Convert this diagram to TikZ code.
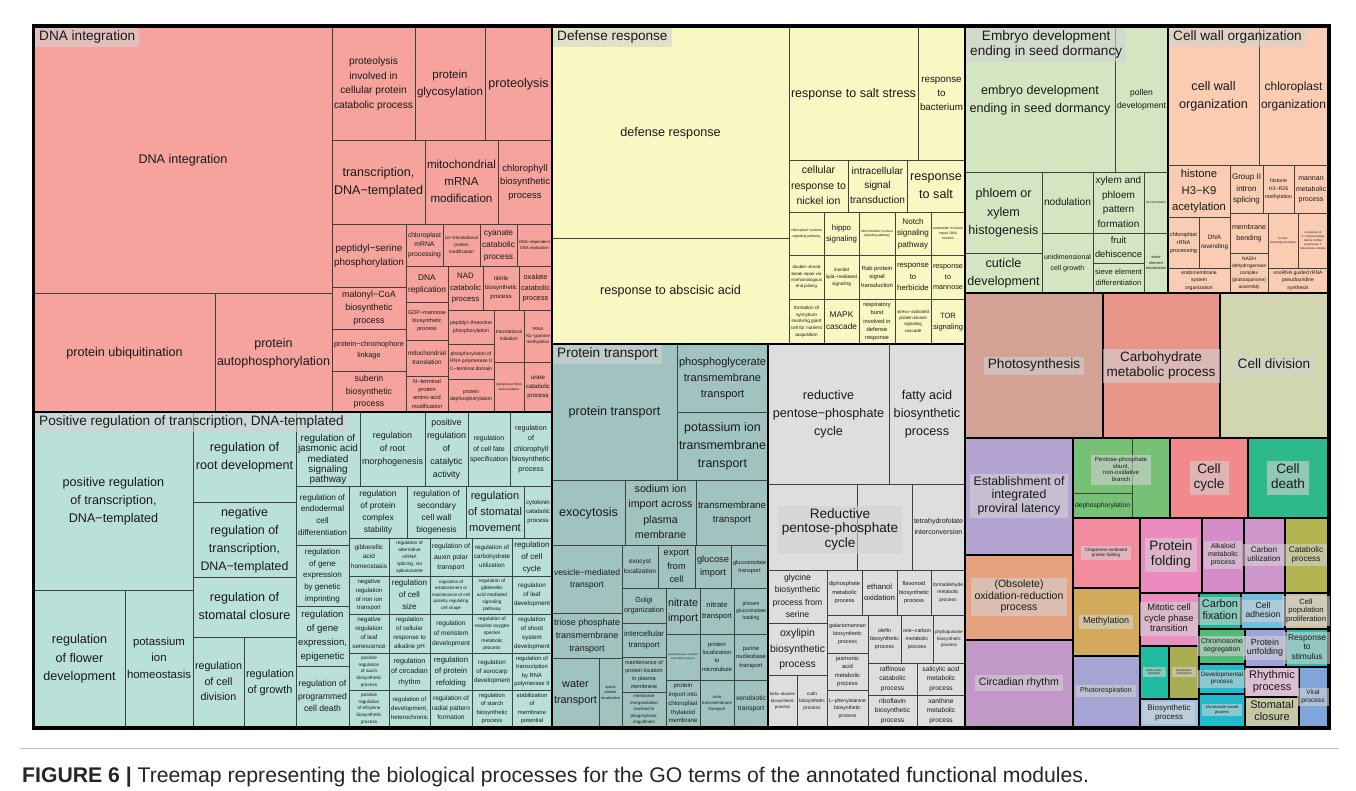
\documentclass[tikz,border=0pt]{standalone}
\usepackage{fontspec}
\setmainfont{Liberation Sans}
\usepackage{graphicx}

\definecolor{dnacol}{HTML}{F5A39C}
\definecolor{defcol}{HTML}{F9F7C2}
\definecolor{embcol}{HTML}{D3E6C1}
\definecolor{cwcol}{HTML}{FACDB3}
\definecolor{poscol}{HTML}{BAE0DA}
\definecolor{ptcol}{HTML}{A0C3C0}
\definecolor{rppcol}{HTML}{DEDEDE}
\definecolor{phocol}{HTML}{D4A294}
\definecolor{carbcol}{HTML}{EA958A}
\definecolor{divcol}{HTML}{D2D6B0}
\definecolor{estcol}{HTML}{B4A3D0}
\definecolor{obscol}{HTML}{E6A17E}
\definecolor{circcol}{HTML}{C198C7}
\definecolor{pencol}{HTML}{76C175}
\definecolor{cyccol}{HTML}{F2898A}
\definecolor{deathcol}{HTML}{2EB98A}
\definecolor{chapcol}{HTML}{F28B9E}
\definecolor{methcol}{HTML}{D3A95C}
\definecolor{prespcol}{HTML}{A7A4D4}
\definecolor{foldcol}{HTML}{EB8BC0}
\definecolor{alkcol}{HTML}{D58CC8}
\definecolor{cutilcol}{HTML}{CE97CB}
\definecolor{catcol}{HTML}{B3B452}
\definecolor{mitcol}{HTML}{EA8FC0}
\definecolor{cfixcol}{HTML}{22B99B}
\definecolor{adhcol}{HTML}{73BDE2}
\definecolor{prolcol}{HTML}{CBC395}
\definecolor{chromcol}{HTML}{4FBA7A}
\definecolor{unfcol}{HTML}{9EA3DB}
\definecolor{stimcol}{HTML}{33BAB0}
\definecolor{auxcol}{HTML}{1FBAA0}
\definecolor{asymcol}{HTML}{A9AE52}
\definecolor{devcol}{HTML}{1FBBCD}
\definecolor{rhycol}{HTML}{EBA3D5}
\definecolor{viralcol}{HTML}{7FA6DA}
\definecolor{bioscol}{HTML}{9DC3E6}
\definecolor{microcol}{HTML}{1FBBCD}
\definecolor{stomcol}{HTML}{B5BA63}

\tikzset{
  cellline/.style={draw=black!75, line width=0.8},
  grpline/.style={draw=black, line width=2.4},
  lbl/.style={inner sep=0, text=black!90},
  gtitle/.style={fill=gray!35, fill opacity=0.6, text opacity=1, inner xsep=4, inner ysep=2, text=black!90,
    execute at begin node={\def\lblfac{1.1}}}
}

% label shrunk to fit its box: [base size]{width}{height}{text}
\newsavebox\lblbox
\newdimen\lblw
\newdimen\lblh
\def\lblfac{1.45}
\newcommand{\fitlabel}[4][12.6]{%
  \edef\lblskip{\fpeval{\lblfac*#1}}%
  \sbox\lblbox{\fontsize{#1}{\lblskip}\selectfont\begin{tabular}{@{}c@{}}#4\end{tabular}}%
  \lblw=\wd\lblbox
  \lblh=\ht\lblbox
  \advance\lblh by \dp\lblbox
  \pgfmathsetmacro\lblsc{min(1,(#2)/\the\lblw,(#3)/\the\lblh)}%
  \scalebox{\lblsc}{\usebox\lblbox}}

% one cell of the treemap: {x1}{y1}{x2}{y2}{name}{text}
\newcommand{\cell}[6]{%
  \draw[cellline] (#1,#2) rectangle (#3,#4);
  \node[lbl] (#5) at ({(#1+#3)/2},{(#2+#4)/2}) {\fitlabel{#3-#1-4}{#4-#2-3}{#6}};}

\begin{document}
\begin{tikzpicture}[x=1pt,y=-1pt]
\useasboundingbox (0,0) rectangle (1356,791);
\fill[white] (0,0) rectangle (1356,791);
% group fills
\fill[dnacol] (34,27) rectangle (552,412);
\fill[defcol] (552,27) rectangle (965,344);
\fill[embcol] (965,27) rectangle (1168,293);
\fill[cwcol] (1168,27) rectangle (1328,293);
\fill[poscol] (34,412) rectangle (552,727);
\fill[ptcol] (552,344) rectangle (768,727);
\fill[rppcol] (768,344) rectangle (965,727);
\fill[phocol] (965,293) rectangle (1103,438);
\fill[carbcol] (1103,293) rectangle (1220,438);
\fill[divcol] (1220,293) rectangle (1328,438);
\fill[estcol] (965,438) rectangle (1073,555);
\fill[obscol] (965,555) rectangle (1073,640);
\fill[circcol] (965,640) rectangle (1073,727);
\fill[pencol] (1073,438) rectangle (1170,518);
\fill[cyccol] (1170,438) rectangle (1248,518);
\fill[deathcol] (1248,438) rectangle (1328,518);
\fill[chapcol] (1073,518) rectangle (1140,588);
\fill[methcol] (1073,588) rectangle (1140,656);
\fill[prespcol] (1073,656) rectangle (1140,727);
\fill[foldcol] (1140,518) rectangle (1202,593);
\fill[alkcol] (1202,518) rectangle (1244,593);
\fill[cutilcol] (1244,518) rectangle (1285,593);
\fill[catcol] (1285,518) rectangle (1328,593);
\fill[mitcol] (1140,593) rectangle (1199,646);
\fill[cfixcol] (1199,593) rectangle (1241,629);
\fill[adhcol] (1241,593) rectangle (1285,629);
\fill[prolcol] (1285,593) rectangle (1328,629);
\fill[chromcol] (1199,629) rectangle (1245,664);
\fill[unfcol] (1245,629) rectangle (1286,667);
\fill[stimcol] (1286,629) rectangle (1328,667);
\fill[auxcol] (1140,646) rectangle (1169,699);
\fill[asymcol] (1169,646) rectangle (1199,699);
\fill[devcol] (1199,664) rectangle (1245,694);
\fill[rhycol] (1245,667) rectangle (1299,697);
\fill[viralcol] (1299,667) rectangle (1328,727);
\fill[bioscol] (1140,699) rectangle (1199,727);
\fill[microcol] (1199,694) rectangle (1245,727);
\fill[stomcol] (1245,697) rectangle (1299,727);

% DNA integration
\cell{34}{27}{332}{293}{dna1}{DNA integration}
\cell{34}{293}{215}{412}{dna2}{protein ubiquitination}
\cell{215}{293}{332}{412}{dna3}{protein\\autophosphorylation}
\cell{332}{27}{415}{140}{dna4}{proteolysis\\involved in\\cellular protein\\catabolic process}
\cell{415}{27}{485}{140}{dna5}{protein\\glycosylation}
\cell{485}{27}{552}{140}{dna6}{proteolysis}
\cell{332}{140}{425}{224}{dna7}{transcription,\\DNA−templated}
\cell{425}{140}{498}{224}{dna8}{mitochondrial\\mRNA\\modification}
\cell{498}{140}{552}{224}{dna9}{chlorophyll\\biosynthetic\\process}
\cell{332}{224}{406}{287}{dna10}{peptidyl−serine\\phosphorylation}
\cell{332}{287}{406}{329}{dna11}{malonyl−CoA\\biosynthetic\\process}
\cell{332}{329}{406}{371}{dna12}{protein−chromophore\\linkage}
\cell{332}{371}{406}{412}{dna13}{suberin\\biosynthetic\\process}
\cell{406}{224}{443}{266}{dna14}{chloroplast\\mRNA\\processing}
\cell{443}{224}{480}{266}{dna15}{co−translational\\protein\\modification}
\cell{480}{224}{517}{266}{dna16}{cyanate\\catabolic\\process}
\cell{517}{224}{552}{266}{dna17}{DNA−dependent\\DNA replication}
\cell{406}{266}{448}{302}{dna18}{DNA\\replication}
\cell{448}{266}{483}{310}{dna19}{NAD\\catabolic\\process}
\cell{483}{266}{519}{310}{dna20}{nitrile\\biosynthetic\\process}
\cell{519}{266}{552}{310}{dna21}{oxalate\\catabolic\\process}
\cell{406}{302}{448}{340}{dna22}{GDP−mannose\\biosynthetic\\process}
\cell{406}{340}{448}{376}{dna23}{mitochondrial\\translation}
\cell{406}{376}{448}{412}{dna24}{N−terminal\\protein\\amino acid\\modification}
\cell{448}{310}{494}{344}{dna25}{peptidyl−threonine\\phosphorylation}
\cell{448}{344}{494}{379}{dna26}{phosphorylation of\\RNA polymerase II\\C−terminal domain}
\cell{448}{379}{494}{412}{dna27}{protein\\dephosphorylation}
\cell{494}{310}{524}{362}{dna28}{translational\\initiation}
\cell{494}{362}{524}{412}{dna29}{tryptophanyl−tRNA\\aminoacylation}
\cell{524}{310}{552}{362}{dna30}{tRNA\\N1−guanine\\methylation}
\cell{524}{362}{552}{412}{dna31}{urate\\catabolic\\process}

% Defense response
\cell{552}{27}{789}{238}{def1}{defense response}
\cell{552}{238}{789}{344}{def2}{response to abscisic acid}
\cell{789}{27}{918}{160}{def3}{response to salt stress}
\cell{918}{27}{965}{160}{def4}{response\\to\\bacterium}
\cell{789}{160}{848}{212}{def5}{cellular\\response to\\nickel ion}
\cell{848}{160}{907}{212}{def6}{intracellular\\signal\\transduction}
\cell{907}{160}{965}{212}{def7}{response\\to salt}
\cell{789}{212}{824}{255}{def8}{chloroplast−nucleus\\signaling pathway}
\cell{824}{212}{859}{255}{def9}{hippo\\signaling}
\cell{859}{212}{895}{255}{def10}{mitochondria−nucleus\\signaling pathway}
\cell{895}{212}{931}{255}{def11}{Notch\\signaling\\pathway}
\cell{931}{212}{965}{255}{def12}{nucleotide−excision\\repair, DNA\\incision}
\cell{789}{255}{824}{299}{def13}{double−strand\\break repair via\\nonhomologous\\end joining}
\cell{824}{255}{859}{299}{def14}{inositol\\lipid−mediated\\signaling}
\cell{859}{255}{895}{299}{def15}{Rab protein\\signal\\transduction}
\cell{895}{255}{931}{299}{def16}{response\\to\\herbicide}
\cell{931}{255}{965}{299}{def17}{response\\to\\mannose}
\cell{789}{299}{824}{344}{def18}{formation of\\syncytium\\involving giant\\cell for nutrient\\acquisition}
\cell{824}{299}{859}{344}{def19}{MAPK\\cascade}
\cell{859}{299}{895}{344}{def20}{respiratory\\burst\\involved in\\defense\\response}
\cell{895}{299}{931}{344}{def21}{stress−activated\\protein kinase\\signaling\\cascade}
\cell{931}{299}{965}{344}{def22}{TOR\\signaling}

% Embryo development
\cell{965}{27}{1115}{172}{emb1}{embryo development\\ending in seed dormancy}
\cell{1115}{27}{1168}{172}{emb2}{pollen\\development}
\cell{965}{172}{1042}{253}{emb3}{phloem or\\xylem\\histogenesis}
\cell{965}{253}{1042}{293}{emb4}{cuticle\\development}
\cell{1042}{172}{1093}{233}{emb5}{nodulation}
\cell{1042}{233}{1093}{293}{emb6}{unidimensional\\cell growth}
\cell{1093}{172}{1144}{233}{emb7}{xylem and\\phloem\\pattern\\formation}
\cell{1093}{233}{1144}{263}{emb8}{fruit\\dehiscence}
\cell{1093}{263}{1144}{293}{emb9}{sieve element\\differentiation}
\cell{1144}{172}{1168}{233}{emb10}{circumnutation}
\cell{1144}{233}{1168}{293}{emb11}{sieve\\element\\enucleation}

% Cell wall organization
\cell{1168}{27}{1259}{165}{cw1}{cell wall\\organization}
\cell{1259}{27}{1328}{165}{cw2}{chloroplast\\organization}
\cell{1168}{165}{1230}{217}{cw3}{histone\\H3−K9\\acetylation}
\cell{1230}{165}{1263}{213}{cw4}{Group II\\intron\\splicing}
\cell{1263}{165}{1294}{213}{cw5}{histone\\H3−R26\\methylation}
\cell{1294}{165}{1328}{213}{cw6}{mannan\\metabolic\\process}
\cell{1168}{217}{1199}{268}{cw7}{chloroplast\\rRNA\\processing}
\cell{1199}{217}{1230}{268}{cw8}{DNA\\rewinding}
\cell{1230}{213}{1268}{253}{cw9}{membrane\\bending}
\cell{1268}{213}{1298}{268}{cw10}{protein\\homooligomerization}
\cell{1298}{213}{1328}{268}{cw11}{recruitment of\\3'−end processing\\factors to RNA\\polymerase II\\holoenzyme complex}
\cell{1168}{268}{1230}{293}{cw12}{endomembrane\\system\\organization}
\cell{1230}{253}{1268}{293}{cw13}{NADH\\dehydrogenase\\complex\\(plastoquinone)\\assembly}
\cell{1268}{268}{1328}{293}{cw14}{snoRNA guided rRNA\\pseudouridine\\synthesis}

% Positive regulation of transcription
\cell{34}{412}{193}{590}{pos1}{positive regulation\\of transcription,\\DNA−templated}
\cell{34}{590}{125}{727}{pos2}{regulation\\of flower\\development}
\cell{125}{590}{193}{727}{pos3}{potassium\\ion\\homeostasis}
\cell{193}{412}{296}{502}{pos4}{regulation of\\root development}
\cell{193}{502}{296}{577}{pos5}{negative\\regulation of\\transcription,\\DNA−templated}
\cell{193}{577}{296}{637}{pos6}{regulation of\\stomatal closure}
\cell{193}{637}{244}{727}{pos7}{regulation\\of cell\\division}
\cell{244}{637}{296}{727}{pos8}{regulation\\of growth}
\draw[cellline] (296,412) rectangle (360,486);
\node[lbl, execute at begin node={\def\lblfac{1.05}}] (pos9) at (328,460) {\fitlabel{60}{52}{regulation of\\jasmonic acid\\mediated\\signaling\\pathway}};
\cell{360}{412}{425}{486}{pos10}{regulation\\of root\\morphogenesis}
\cell{425}{412}{468}{486}{pos11}{positive\\regulation\\of\\catalytic\\activity}
\cell{468}{412}{510}{486}{pos12}{regulation\\of cell fate\\specification}
\cell{510}{412}{552}{486}{pos13}{regulation\\of\\chlorophyll\\biosynthetic\\process}
\cell{296}{486}{349}{545}{pos14}{regulation of\\endodermal\\cell\\differentiation}
\cell{349}{486}{407}{538}{pos15}{regulation\\of protein\\complex\\stability}
\cell{407}{486}{466}{538}{pos16}{regulation of\\secondary\\cell wall\\biogenesis}
\cell{466}{486}{524}{538}{pos17}{regulation\\of stomatal\\movement}
\cell{524}{486}{552}{538}{pos18}{cytokinin\\catabolic\\process}
\cell{296}{545}{349}{606}{pos19}{regulation\\of gene\\expression\\by genetic\\imprinting}
\cell{296}{606}{349}{666}{pos20}{regulation\\of gene\\expression,\\epigenetic}
\cell{296}{666}{349}{727}{pos21}{regulation of\\programmed\\cell death}
\cell{349}{538}{389}{576}{pos22}{gibberellic\\acid\\homeostasis}
\cell{389}{538}{430}{576}{pos23}{regulation of\\alternative\\mRNA\\splicing, via\\spliceosome}
\cell{430}{538}{472}{576}{pos24}{regulation of\\auxin polar\\transport}
\cell{472}{538}{512}{576}{pos25}{regulation of\\carbohydrate\\utilization}
\cell{512}{538}{552}{576}{pos26}{regulation\\of cell\\cycle}
\cell{349}{576}{389}{614}{pos27}{negative\\regulation\\of iron ion\\transport}
\cell{389}{576}{430}{614}{pos28}{regulation\\of cell\\size}
\cell{430}{576}{472}{614}{pos29}{regulation of\\establishment or\\maintenance of cell\\polarity regulating\\cell shape}
\cell{472}{576}{512}{614}{pos30}{regulation of\\gibberellic\\acid mediated\\signaling\\pathway}
\cell{512}{576}{552}{614}{pos31}{regulation\\of leaf\\development}
\cell{349}{614}{389}{653}{pos32}{negative\\regulation\\of leaf\\senescence}
\cell{389}{614}{430}{653}{pos33}{regulation\\of cellular\\response to\\alkaline pH}
\cell{430}{614}{472}{653}{pos34}{regulation\\of meristem\\development}
\cell{472}{614}{512}{653}{pos35}{regulation of\\reactive oxygen\\species\\metabolic\\process}
\cell{512}{614}{552}{653}{pos36}{regulation\\of shoot\\system\\development}
\cell{349}{653}{389}{690}{pos37}{positive\\regulation\\of auxin\\biosynthetic\\process}
\cell{389}{653}{430}{690}{pos38}{regulation\\of circadian\\rhythm}
\cell{430}{653}{472}{690}{pos39}{regulation\\of protein\\refolding}
\cell{472}{653}{512}{690}{pos40}{regulation\\of sorocarp\\development}
\cell{512}{653}{552}{690}{pos41}{regulation of\\transcription\\by RNA\\polymerase II}
\cell{349}{690}{389}{727}{pos42}{positive\\regulation\\of ethylene\\biosynthetic\\process}
\cell{389}{690}{430}{727}{pos43}{regulation of\\development,\\heterochronic}
\cell{430}{690}{472}{727}{pos44}{regulation of\\radial pattern\\formation}
\cell{472}{690}{512}{727}{pos45}{regulation\\of starch\\biosynthetic\\process}
\cell{512}{690}{552}{727}{pos46}{stabilization\\of\\membrane\\potential}

% Protein transport
\cell{552}{344}{677}{480}{pt1}{protein transport}
\cell{677}{344}{768}{412}{pt2}{phosphoglycerate\\transmembrane\\transport}
\cell{677}{412}{768}{480}{pt3}{potassium ion\\transmembrane\\transport}
\cell{552}{480}{625}{545}{pt4}{exocytosis}
\cell{625}{480}{696}{545}{pt5}{sodium ion\\import across\\plasma\\membrane}
\cell{696}{480}{768}{545}{pt6}{transmembrane\\transport}
\cell{552}{545}{622}{613}{pt7}{vesicle−mediated\\transport}
\cell{552}{613}{622}{658}{pt8}{triose phosphate\\transmembrane\\transport}
\cell{552}{658}{599}{727}{pt9}{water\\transport}
\cell{599}{658}{622}{727}{pt10}{apical\\protein\\localization}
\cell{622}{545}{658}{588}{pt11}{exocyst\\localization}
\cell{658}{545}{695}{588}{pt12}{export\\from\\cell}
\cell{695}{545}{731}{588}{pt13}{glucose\\import}
\cell{731}{545}{768}{588}{pt14}{glucosinolate\\transport}
\cell{622}{588}{666}{623}{pt15}{Golgi\\organization}
\cell{622}{623}{666}{657}{pt16}{intercellular\\transport}
\cell{622}{657}{666}{692}{pt17}{maintenance of\\protein location\\in plasma\\membrane}
\cell{622}{692}{666}{727}{pt18}{membrane\\reorganization\\involved in\\phagocytosis,\\engulfment}
\cell{666}{588}{700}{634}{pt19}{nitrate\\import}
\cell{700}{588}{734}{634}{pt20}{nitrate\\transport}
\cell{734}{588}{768}{634}{pt21}{phloem\\glucosinolate\\loading}
\cell{666}{634}{700}{680}{pt22}{plasmodesmata−mediated\\intercellular transport}
\cell{700}{634}{734}{680}{pt23}{protein\\localization\\to\\microtubule}
\cell{734}{634}{768}{680}{pt24}{purine\\nucleobase\\transport}
\cell{666}{680}{700}{727}{pt25}{protein\\import into\\chloroplast\\thylakoid\\membrane}
\cell{700}{680}{734}{727}{pt26}{urea\\transmembrane\\transport}
\cell{734}{680}{768}{727}{pt27}{xenobiotic\\transport}

% Reductive pentose-phosphate cycle
\cell{768}{344}{889}{484}{rpp1}{reductive\\pentose−phosphate\\cycle}
\cell{889}{344}{965}{484}{rpp2}{fatty acid\\biosynthetic\\process}
\draw[cellline] (768,484) rectangle (857,570);
\draw[cellline] (857,484) rectangle (912,570);
\cell{912}{484}{965}{570}{rpp5}{tetrahydrofolate\\interconversion}
\cell{768}{570}{827}{623}{rpp6}{glycine\\biosynthetic\\process from\\serine}
\cell{827}{570}{862}{615}{rpp7}{diphosphate\\metabolic\\process}
\cell{862}{570}{897}{615}{rpp8}{ethanol\\oxidation}
\cell{897}{570}{931}{615}{rpp9}{flavonoid\\biosynthetic\\process}
\cell{931}{570}{965}{615}{rpp10}{formaldehyde\\metabolic\\process}
\cell{768}{623}{827}{675}{rpp11}{oxylipin\\biosynthetic\\process}
\cell{768}{675}{797}{727}{rpp12}{beta−alanine\\biosynthetic\\process}
\cell{797}{675}{827}{727}{rpp13}{cutin\\biosynthetic\\process}
\cell{827}{615}{868}{653}{rpp14}{galactomannan\\biosynthetic\\process}
\cell{827}{653}{868}{690}{rpp15}{jasmonic\\acid\\metabolic\\process}
\cell{827}{690}{868}{727}{rpp16}{L−phenylalanine\\biosynthetic\\process}
\cell{868}{615}{901}{663}{rpp17}{olefin\\biosynthetic\\process}
\cell{901}{615}{933}{663}{rpp18}{one−carbon\\metabolic\\process}
\cell{933}{615}{965}{663}{rpp19}{phylloquinone\\biosynthetic\\process}
\cell{868}{663}{917}{695}{rpp20}{raffinose\\catabolic\\process}
\cell{917}{663}{965}{695}{rpp21}{salicylic acid\\metabolic\\process}
\cell{868}{695}{917}{727}{rpp22}{riboflavin\\biosynthetic\\process}
\cell{917}{695}{965}{727}{rpp23}{xanthine\\metabolic\\process}

% small groups
\draw[cellline] (1073,438) rectangle (1132,493);
\draw[cellline] (1132,438) rectangle (1170,518);
\cell{1073}{493}{1132}{518}{pen3}{dephosphorylation}

% group borders
\draw[grpline] (34,27) rectangle (552,412);
\draw[grpline] (552,27) rectangle (965,344);
\draw[grpline] (965,27) rectangle (1168,293);
\draw[grpline] (1168,27) rectangle (1328,293);
\draw[grpline] (34,412) rectangle (552,727);
\draw[grpline] (552,344) rectangle (768,727);
\draw[grpline] (768,344) rectangle (965,727);
\draw[grpline] (965,293) rectangle (1103,438);
\draw[grpline] (1103,293) rectangle (1220,438);
\draw[grpline] (1220,293) rectangle (1328,438);
\draw[grpline] (965,438) rectangle (1073,555);
\draw[grpline] (965,555) rectangle (1073,640);
\draw[grpline] (965,640) rectangle (1073,727);
\draw[grpline] (1073,438) rectangle (1170,518);
\draw[grpline] (1170,438) rectangle (1248,518);
\draw[grpline] (1248,438) rectangle (1328,518);
\draw[grpline] (1073,518) rectangle (1140,588);
\draw[grpline] (1073,588) rectangle (1140,656);
\draw[grpline] (1073,656) rectangle (1140,727);
\draw[grpline] (1140,518) rectangle (1202,593);
\draw[grpline] (1202,518) rectangle (1244,593);
\draw[grpline] (1244,518) rectangle (1285,593);
\draw[grpline] (1285,518) rectangle (1328,593);
\draw[grpline] (1140,593) rectangle (1199,646);
\draw[grpline] (1199,593) rectangle (1241,629);
\draw[grpline] (1241,593) rectangle (1285,629);
\draw[grpline] (1285,593) rectangle (1328,629);
\draw[grpline] (1199,629) rectangle (1245,664);
\draw[grpline] (1245,629) rectangle (1286,667);
\draw[grpline] (1286,629) rectangle (1328,667);
\draw[grpline] (1140,646) rectangle (1169,699);
\draw[grpline] (1169,646) rectangle (1199,699);
\draw[grpline] (1199,664) rectangle (1245,694);
\draw[grpline] (1245,667) rectangle (1299,697);
\draw[grpline] (1299,667) rectangle (1328,727);
\draw[grpline] (1140,699) rectangle (1199,727);
\draw[grpline] (1199,694) rectangle (1245,727);
\draw[grpline] (1245,697) rectangle (1299,727);
\draw[line width=3] (33,26) rectangle (1329,728);

% group titles
\node[gtitle, anchor=north west] (tdna) at (35,28) {\fitlabel[13.6]{400}{40}{DNA integration}};
\node[gtitle, anchor=north west] (tdef) at (553,28) {\fitlabel[13.6]{400}{40}{Defense response}};
\node[gtitle, anchor=north west] (temb) at (966,28) {\fitlabel[13.6]{200}{60}{Embryo development\\ending in seed dormancy}};
\node[gtitle, anchor=north west] (tcw) at (1169,28) {\fitlabel[13.6]{200}{40}{Cell wall organization}};
\node[gtitle, anchor=north west] (tpos) at (35,413) {\fitlabel[13.6]{500}{40}{Positive regulation of transcription, DNA-templated}};
\node[gtitle, anchor=north west] (tpt) at (553,345) {\fitlabel[13.6]{200}{40}{Protein transport}};
\node[gtitle] (trpp) at (840,530) {\fitlabel[13.6]{190}{80}{Reductive\\pentose-phosphate\\cycle}};
\node[gtitle] (tpho) at (1034,366) {\fitlabel[13.6]{128}{60}{Photosynthesis}};
\node[gtitle] (tcarb) at (1161,366) {\fitlabel[13.6]{109}{60}{Carbohydrate\\metabolic process}};
\node[gtitle] (tdiv) at (1274,366) {\fitlabel[13.6]{100}{60}{Cell division}};
\node[gtitle] (test) at (1019,496) {\fitlabel[12.3]{100}{100}{Establishment of\\integrated\\proviral latency}};
\node[gtitle] (tobs) at (1019,597) {\fitlabel[10.5]{100}{80}{(Obsolete)\\oxidation-reduction\\process}};
\node[gtitle] (tcirc) at (1019,683) {\fitlabel[10.6]{100}{80}{Circadian rhythm}};
\node[gtitle] (tpen) at (1121,470) {\fitlabel[6]{90}{70}{Pentose-phosphate\\shunt,\\non-oxidative\\branch}};
\node[gtitle] (tcyc) at (1209,478) {\fitlabel[13.6]{70}{70}{Cell\\cycle}};
\node[gtitle] (tdeath) at (1288,478) {\fitlabel[13.6]{70}{70}{Cell\\death}};
\node[gtitle] (tchap) at (1106,553) {\fitlabel[4.5]{60}{60}{Chaperone-mediated\\protein folding}};
\node[gtitle] (tmeth) at (1106,622) {\fitlabel[9]{60}{60}{Methylation}};
\node[gtitle] (tpresp) at (1106,691) {\fitlabel[7.1]{60}{60}{Photorespiration}};
\node[gtitle] (tfold) at (1171,555) {\fitlabel[13.6]{56}{70}{Protein\\folding}};
\node[gtitle] (talk) at (1223,555) {\fitlabel[7]{38}{70}{Alkaloid\\metabolic\\process}};
\node[gtitle] (tcutil) at (1264,555) {\fitlabel[8]{38}{70}{Carbon\\utilization}};
\node[gtitle] (tcat) at (1306,555) {\fitlabel[8.2]{40}{70}{Catabolic\\process}};
\node[gtitle] (tmit) at (1169,619) {\fitlabel[9.3]{55}{50}{Mitotic cell\\cycle phase\\transition}};
\node[gtitle] (tcfix) at (1220,611) {\fitlabel[11]{38}{34}{Carbon\\fixation}};
\node[gtitle] (tadh) at (1263,611) {\fitlabel[8.6]{40}{34}{Cell\\adhesion}};
\node[gtitle] (tprol) at (1306,611) {\fitlabel[7.7]{40}{34}{Cell\\population\\proliferation}};
\node[gtitle] (tchrom) at (1222,646) {\fitlabel[7.2]{42}{32}{Chromosome\\segregation}};
\node[gtitle] (tunf) at (1265,648) {\fitlabel[8.9]{38}{36}{Protein\\unfolding}};
\node[gtitle] (tstim) at (1307,648) {\fitlabel[8.5]{38}{36}{Response\\to\\stimulus}};
\node[gtitle] (taux) at (1154,672) {\fitlabel[3]{26}{50}{Auxin polar\\transport}};
\node[gtitle] (tasym) at (1184,672) {\fitlabel[3]{26}{50}{Asymmetric\\cell division}};
\node[gtitle] (tdev) at (1222,679) {\fitlabel[6.7]{42}{28}{Developmental\\process}};
\node[gtitle] (trhy) at (1272,682) {\fitlabel[11]{50}{28}{Rhythmic\\process}};
\node[gtitle] (tvir) at (1313,697) {\fitlabel[6.6]{26}{56}{Viral\\process}};
\node[gtitle] (tbios) at (1169,713) {\fitlabel[8]{55}{26}{Biosynthetic\\process}};
\node[gtitle] (tmicro) at (1222,710) {\fitlabel[4]{42}{30}{Microtubule-based\\process}};
\node[gtitle] (tstom) at (1272,712) {\fitlabel[11]{50}{28}{Stomatal\\closure}};

% caption
\draw[gray!50, line width=0.8] (20,748) -- (1338,748);
\node[anchor=base west, inner sep=0, text=black!85] (cap) at (22,782) {\fontsize{21.2}{25}\selectfont\textbf{FIGURE 6 |} Treemap representing the biological processes for the GO terms of the annotated functional modules.};
\end{tikzpicture}
\end{document}
